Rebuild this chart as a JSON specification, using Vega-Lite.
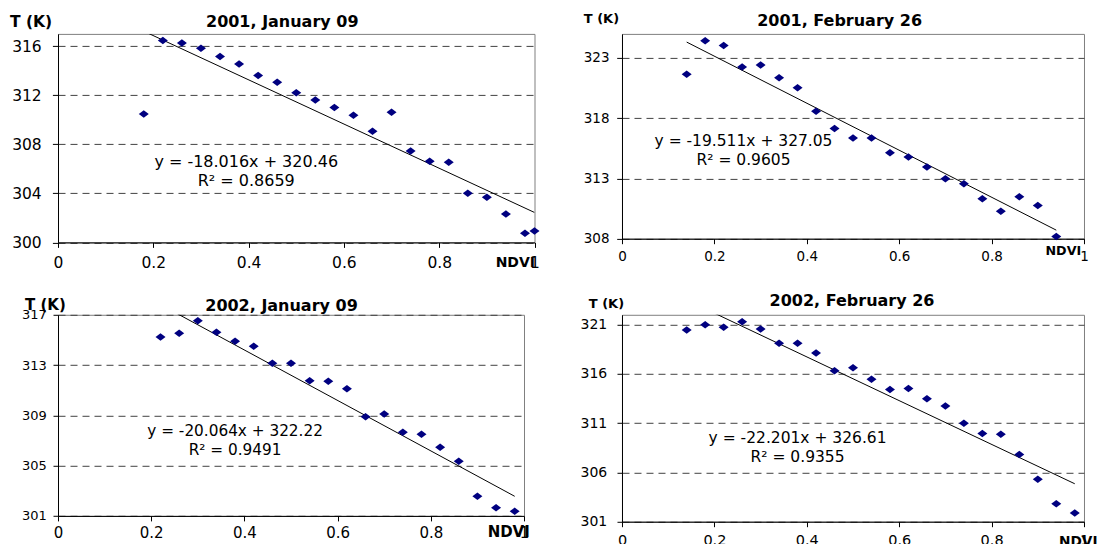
{
  "$schema": "https://vega.github.io/schema/vega-lite/v6.json",
  "background": "white",
  "padding": {"left": 9, "top": 11.9, "right": 0, "bottom": 0},
  "bounds": "flush",
  "columns": 2,
  "spacing": {"row": 71.9, "column": 87},
  "config": {
    "view": {"stroke": "#808080", "strokeWidth": 1},
    "font": "DejaVu Sans",
    "axis": {
      "domainColor": "black", "tickColor": "black", "labelColor": "black", "titleColor": "black",
      "labelFont": "DejaVu Sans", "titleFont": "DejaVu Sans", "titleFontWeight": "bold",
      "gridColor": "#404040", "gridDash": [7, 5], "gridWidth": 1, "tickSize": 5
    }
  },
  "datasets": {
    "p1pts": [
      {"ndvi": 0.18, "t": 310.46}, {"ndvi": 0.22, "t": 316.47}, {"ndvi": 0.26, "t": 316.25}, {"ndvi": 0.30, "t": 315.84},
      {"ndvi": 0.34, "t": 315.15}, {"ndvi": 0.38, "t": 314.55}, {"ndvi": 0.42, "t": 313.61}, {"ndvi": 0.46, "t": 313.06},
      {"ndvi": 0.50, "t": 312.21}, {"ndvi": 0.54, "t": 311.61}, {"ndvi": 0.58, "t": 311.00}, {"ndvi": 0.62, "t": 310.37},
      {"ndvi": 0.66, "t": 309.06}, {"ndvi": 0.70, "t": 310.62}, {"ndvi": 0.74, "t": 307.46}, {"ndvi": 0.78, "t": 306.61},
      {"ndvi": 0.82, "t": 306.53}, {"ndvi": 0.86, "t": 304.00}, {"ndvi": 0.90, "t": 303.68}, {"ndvi": 0.94, "t": 302.31},
      {"ndvi": 0.98, "t": 300.74}, {"ndvi": 1.00, "t": 300.93}
    ],
    "p1line": [{"ndvi": 0.18, "t": 317.22}, {"ndvi": 1.0, "t": 302.44}],
    "p1text": [
      {"ndvi": 0.395, "t": 306.17, "label": "y = -18.016x + 320.46"},
      {"ndvi": 0.395, "t": 304.61, "label": "R² = 0.8659"}
    ],
    "p2pts": [
      {"ndvi": 0.14, "t": 321.65}, {"ndvi": 0.18, "t": 324.43}, {"ndvi": 0.22, "t": 324.04}, {"ndvi": 0.26, "t": 322.26},
      {"ndvi": 0.30, "t": 322.42}, {"ndvi": 0.34, "t": 321.35}, {"ndvi": 0.38, "t": 320.53}, {"ndvi": 0.42, "t": 318.58},
      {"ndvi": 0.46, "t": 317.15}, {"ndvi": 0.50, "t": 316.35}, {"ndvi": 0.54, "t": 316.35}, {"ndvi": 0.58, "t": 315.14},
      {"ndvi": 0.62, "t": 314.79}, {"ndvi": 0.66, "t": 313.96}, {"ndvi": 0.70, "t": 312.97}, {"ndvi": 0.74, "t": 312.56},
      {"ndvi": 0.78, "t": 311.32}, {"ndvi": 0.82, "t": 310.28}, {"ndvi": 0.86, "t": 311.49}, {"ndvi": 0.90, "t": 310.75},
      {"ndvi": 0.94, "t": 308.19}
    ],
    "p2line": [{"ndvi": 0.14, "t": 324.32}, {"ndvi": 0.94, "t": 308.71}],
    "p2text": [
      {"ndvi": 0.263, "t": 315.69, "label": "y = -19.511x + 327.05"},
      {"ndvi": 0.263, "t": 314.1, "label": "R² = 0.9605"}
    ],
    "p3pts": [
      {"ndvi": 0.22, "t": 315.24}, {"ndvi": 0.26, "t": 315.54}, {"ndvi": 0.30, "t": 316.52}, {"ndvi": 0.34, "t": 315.62},
      {"ndvi": 0.38, "t": 314.90}, {"ndvi": 0.42, "t": 314.50}, {"ndvi": 0.46, "t": 313.14}, {"ndvi": 0.50, "t": 313.14},
      {"ndvi": 0.54, "t": 311.76}, {"ndvi": 0.58, "t": 311.71}, {"ndvi": 0.62, "t": 311.12}, {"ndvi": 0.66, "t": 308.89},
      {"ndvi": 0.70, "t": 309.10}, {"ndvi": 0.74, "t": 307.66}, {"ndvi": 0.78, "t": 307.50}, {"ndvi": 0.82, "t": 306.47},
      {"ndvi": 0.86, "t": 305.35}, {"ndvi": 0.90, "t": 302.56}, {"ndvi": 0.94, "t": 301.65}, {"ndvi": 0.98, "t": 301.36}
    ],
    "p3line": [{"ndvi": 0.22, "t": 317.81}, {"ndvi": 0.98, "t": 302.56}],
    "p3text": [
      {"ndvi": 0.38, "t": 307.35, "label": "y = -20.064x + 322.22"},
      {"ndvi": 0.38, "t": 305.88, "label": "R² = 0.9491"}
    ],
    "p4pts": [
      {"ndvi": 0.14, "t": 320.46}, {"ndvi": 0.18, "t": 321.00}, {"ndvi": 0.22, "t": 320.73}, {"ndvi": 0.26, "t": 321.30},
      {"ndvi": 0.30, "t": 320.56}, {"ndvi": 0.34, "t": 319.12}, {"ndvi": 0.38, "t": 319.12}, {"ndvi": 0.42, "t": 318.11},
      {"ndvi": 0.46, "t": 316.33}, {"ndvi": 0.50, "t": 316.63}, {"ndvi": 0.54, "t": 315.45}, {"ndvi": 0.58, "t": 314.41},
      {"ndvi": 0.62, "t": 314.51}, {"ndvi": 0.66, "t": 313.47}, {"ndvi": 0.70, "t": 312.73}, {"ndvi": 0.74, "t": 310.98},
      {"ndvi": 0.78, "t": 309.94}, {"ndvi": 0.82, "t": 309.87}, {"ndvi": 0.86, "t": 307.82}, {"ndvi": 0.90, "t": 305.30},
      {"ndvi": 0.94, "t": 302.82}, {"ndvi": 0.98, "t": 301.87}
    ],
    "p4line": [{"ndvi": 0.14, "t": 323.50}, {"ndvi": 0.98, "t": 304.85}],
    "p4text": [
      {"ndvi": 0.38, "t": 308.97, "label": "y = -22.201x + 326.61"},
      {"ndvi": 0.38, "t": 307.05, "label": "R² = 0.9355"}
    ]
  },
  "concat": [
    {
      "width": 476.5, "height": 208.5,
      "title": {"text": "2001, January 09", "font": "DejaVu Sans", "fontSize": 16, "fontWeight": "bold", "anchor": "middle", "frame": "group", "baseline": "alphabetic", "offset": -16.2, "dx": -14, "dy": 12.9, "color": "black"},
      "encoding": {
        "x": {"field": "ndvi", "type": "quantitative", "scale": {"domain": [0, 1], "nice": false, "zero": false},
              "axis": {"values": [0, 0.2, 0.4, 0.6, 0.8, 1], "format": "~g", "grid": false, "labelFlush": false, "labelOverlap": false, "labelFontSize": 15.5, "labelBaseline": "alphabetic", "labelPadding": 20.6,
                       "title": "NDVI", "titleFontSize": 14, "titleAnchor": "end", "titleAlign": "right", "titleBaseline": "alphabetic", "titleX": 476.5, "titleY": 24}},
        "y": {"field": "t", "type": "quantitative", "scale": {"domain": [300, 317], "nice": false, "zero": false},
              "axis": {"values": [300, 304, 308, 312, 316], "grid": true, "labelFontSize": 15.5, "tickSize": 5.6, "labelPadding": 11.2,
                       "title": "T (K)", "titleFontSize": 15.5, "titleAngle": 0, "titleAlign": "left", "titleBaseline": "alphabetic", "titleX": -48.5, "titleY": -7.5}}
      },
      "layer": [
        {"data": {"name": "p1line"}, "mark": {"type": "line", "color": "black", "strokeWidth": 1, "clip": true}},
        {"data": {"name": "p1pts"}, "mark": {"type": "point", "shape": "M-1,0L0,-0.75L1,0L0,0.75Z", "filled": true, "color": "#000080", "opacity": 1, "size": 100}},
        {"data": {"name": "p1text"}, "mark": {"type": "text", "font": "DejaVu Sans", "fontSize": 16, "align": "center", "baseline": "alphabetic", "color": "black"}, "encoding": {"text": {"field": "label"}}}
      ]
    },
    {
      "width": 462, "height": 204.8,
      "title": {"text": "2001, February 26", "font": "DejaVu Sans", "fontSize": 16, "fontWeight": "bold", "anchor": "middle", "frame": "group", "baseline": "alphabetic", "offset": -17, "dx": -13.4, "dy": 12.5, "color": "black"},
      "encoding": {
        "x": {"field": "ndvi", "type": "quantitative", "scale": {"domain": [0, 1], "nice": false, "zero": false},
              "axis": {"values": [0, 0.2, 0.4, 0.6, 0.8, 1], "format": "~g", "grid": false, "labelFlush": false, "labelOverlap": false, "labelFontSize": 13.5, "labelBaseline": "alphabetic", "labelPadding": 17,
                       "title": "NDVI", "titleFontSize": 12.7, "titleAnchor": "end", "titleAlign": "right", "titleBaseline": "alphabetic", "titleX": 458.7, "titleY": 16}},
        "y": {"field": "t", "type": "quantitative", "scale": {"domain": [308, 325], "nice": false, "zero": false},
              "axis": {"values": [308, 313, 318, 323], "grid": true, "labelFontSize": 13.5, "tickSize": 5.3, "labelPadding": 7.7,
                       "title": "T (K)", "titleFontSize": 13, "titleAngle": 0, "titleAlign": "left", "titleBaseline": "alphabetic", "titleX": -38.7, "titleY": -10.9}}
      },
      "layer": [
        {"data": {"name": "p2line"}, "mark": {"type": "line", "color": "black", "strokeWidth": 1, "clip": true}},
        {"data": {"name": "p2pts"}, "mark": {"type": "point", "shape": "M-1,0L0,-0.75L1,0L0,0.75Z", "filled": true, "color": "#000080", "opacity": 1, "size": 100}},
        {"data": {"name": "p2text"}, "mark": {"type": "text", "font": "DejaVu Sans", "fontSize": 15.5, "align": "center", "baseline": "alphabetic", "color": "black"}, "encoding": {"text": {"field": "label"}}}
      ]
    },
    {
      "width": 466, "height": 201.1,
      "title": {"text": "2002, January 09", "font": "DejaVu Sans", "fontSize": 16, "fontWeight": "bold", "anchor": "middle", "frame": "group", "baseline": "alphabetic", "offset": -15.2, "dx": -9.5, "dy": 14.4, "color": "black"},
      "encoding": {
        "x": {"field": "ndvi", "type": "quantitative", "scale": {"domain": [0, 1], "nice": false, "zero": false},
              "axis": {"values": [0, 0.2, 0.4, 0.6, 0.8, 1], "format": "~g", "grid": false, "labelFlush": false, "labelOverlap": false, "labelFontSize": 15, "labelBaseline": "alphabetic", "labelPadding": 16.3,
                       "title": "NDVI", "titleFontSize": 15, "titleAnchor": "end", "titleAlign": "right", "titleBaseline": "alphabetic", "titleX": 471.3, "titleY": 21}},
        "y": {"field": "t", "type": "quantitative", "scale": {"domain": [301, 317], "nice": false, "zero": false},
              "axis": {"values": [301, 305, 309, 313, 317], "grid": true, "labelFontSize": 13, "tickSize": 5, "labelPadding": 6.8,
                       "title": "T (K)", "titleFontSize": 15, "titleAngle": 0, "titleAlign": "left", "titleBaseline": "alphabetic", "titleX": -33.5, "titleY": -5.6}}
      },
      "layer": [
        {"data": {"name": "p3line"}, "mark": {"type": "line", "color": "black", "strokeWidth": 1, "clip": true}},
        {"data": {"name": "p3pts"}, "mark": {"type": "point", "shape": "M-1,0L0,-0.75L1,0L0,0.75Z", "filled": true, "color": "#000080", "opacity": 1, "size": 100}},
        {"data": {"name": "p3text"}, "mark": {"type": "text", "font": "DejaVu Sans", "fontSize": 15.3, "align": "center", "baseline": "alphabetic", "color": "black"}, "encoding": {"text": {"field": "label"}}}
      ]
    },
    {
      "width": 462, "height": 206.9,
      "title": {"text": "2002, February 26", "font": "DejaVu Sans", "fontSize": 16, "fontWeight": "bold", "anchor": "middle", "frame": "group", "baseline": "alphabetic", "offset": -11.6, "dx": -1, "dy": 12.1, "color": "black"},
      "encoding": {
        "x": {"field": "ndvi", "type": "quantitative", "scale": {"domain": [0, 1], "nice": false, "zero": false},
              "axis": {"values": [0, 0.2, 0.4, 0.6, 0.8, 1], "format": "~g", "grid": false, "labelFlush": false, "labelOverlap": false, "labelFontSize": 14.5, "labelBaseline": "alphabetic", "labelPadding": 17.5,
                       "title": "NDVI", "titleFontSize": 13.7, "titleAnchor": "end", "titleAlign": "right", "titleBaseline": "alphabetic", "titleX": 475, "titleY": 23.5}},
        "y": {"field": "t", "type": "quantitative", "scale": {"domain": [301, 322], "nice": false, "zero": false},
              "axis": {"values": [301, 306, 311, 316, 321], "grid": true, "labelFontSize": 14, "tickSize": 5, "labelPadding": 10.3,
                       "title": "T (K)", "titleFontSize": 13, "titleAngle": 0, "titleAlign": "left", "titleBaseline": "alphabetic", "titleX": -33.7, "titleY": -6.9}}
      },
      "layer": [
        {"data": {"name": "p4line"}, "mark": {"type": "line", "color": "black", "strokeWidth": 1, "clip": true}},
        {"data": {"name": "p4pts"}, "mark": {"type": "point", "shape": "M-1,0L0,-0.75L1,0L0,0.75Z", "filled": true, "color": "#000080", "opacity": 1, "size": 100}},
        {"data": {"name": "p4text"}, "mark": {"type": "text", "font": "DejaVu Sans", "fontSize": 15.5, "align": "center", "baseline": "alphabetic", "color": "black"}, "encoding": {"text": {"field": "label"}}}
      ]
    }
  ]
}
